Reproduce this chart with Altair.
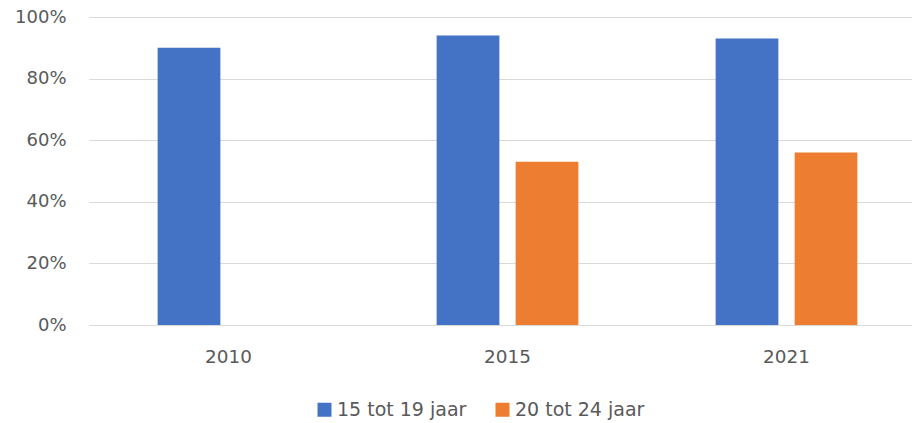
import altair as alt
import pandas as pd

years = ["2010", "2015", "2021"]
groups = ["15 tot 19 jaar", "20 tot 24 jaar"]
share_15_19 = [90, 94, 93]
share_20_24 = [None, 53, 56]
colors = ["#4472C4", "#ED7D31"]

rows = []
for y, a, b in zip(years, share_15_19, share_20_24):
    if a is not None:
        rows.append({"year": y, "group": groups[0], "value": a / 100})
    if b is not None:
        rows.append({"year": y, "group": groups[1], "value": b / 100})
df = pd.DataFrame(rows)

FONT = "DejaVu Sans"
TXT = "#595959"

chart = (
    alt.Chart(df)
    .mark_bar()
    .encode(
        x=alt.X(
            "year:N",
            sort=years,
            scale=alt.Scale(paddingInner=0, paddingOuter=0, range=[0, 837]),
            axis=alt.Axis(
                title=None, labelAngle=0, ticks=False, domain=False, grid=False,
                labelFontSize=18.4, labelColor=TXT, labelFont=FONT, labelPadding=22,
            ),
        ),
        xOffset=alt.XOffset(
            "group:N",
            scale=alt.Scale(domain=groups, paddingInner=0.206, paddingOuter=0.869),
        ),
        y=alt.Y(
            "value:Q",
            scale=alt.Scale(domain=[0, 1]),
            axis=alt.Axis(
                title=None, values=[0, 0.2, 0.4, 0.6, 0.8, 1.0], format=".0%",
                domain=False, ticks=False, gridColor="#d9d9d9", gridWidth=1.2,
                labelFontSize=18, labelColor=TXT, labelFont=FONT, labelPadding=23,
            ),
        ),
        color=alt.Color(
            "group:N",
            scale=alt.Scale(domain=groups, range=colors),
            legend=alt.Legend(
                title=None, orient="none", direction="horizontal",
                legendX=226, legendY=383, padding=0,
                symbolType="square", symbolSize=196, symbolStrokeWidth=0,
                labelFontSize=19, labelColor=TXT, labelFont=FONT, labelOffset=3,
                columnPadding=26,
            ),
        ),
    )
    .properties(
        width=823,
        height=308,
        autosize=alt.AutoSizeParams(type="none"),
        padding={"left": 81, "top": 9, "right": 0, "bottom": 95},
    )
    .configure_view(stroke=None)
)

chart.save("out.html", embed_options={"renderer": "svg", "actions": False})
